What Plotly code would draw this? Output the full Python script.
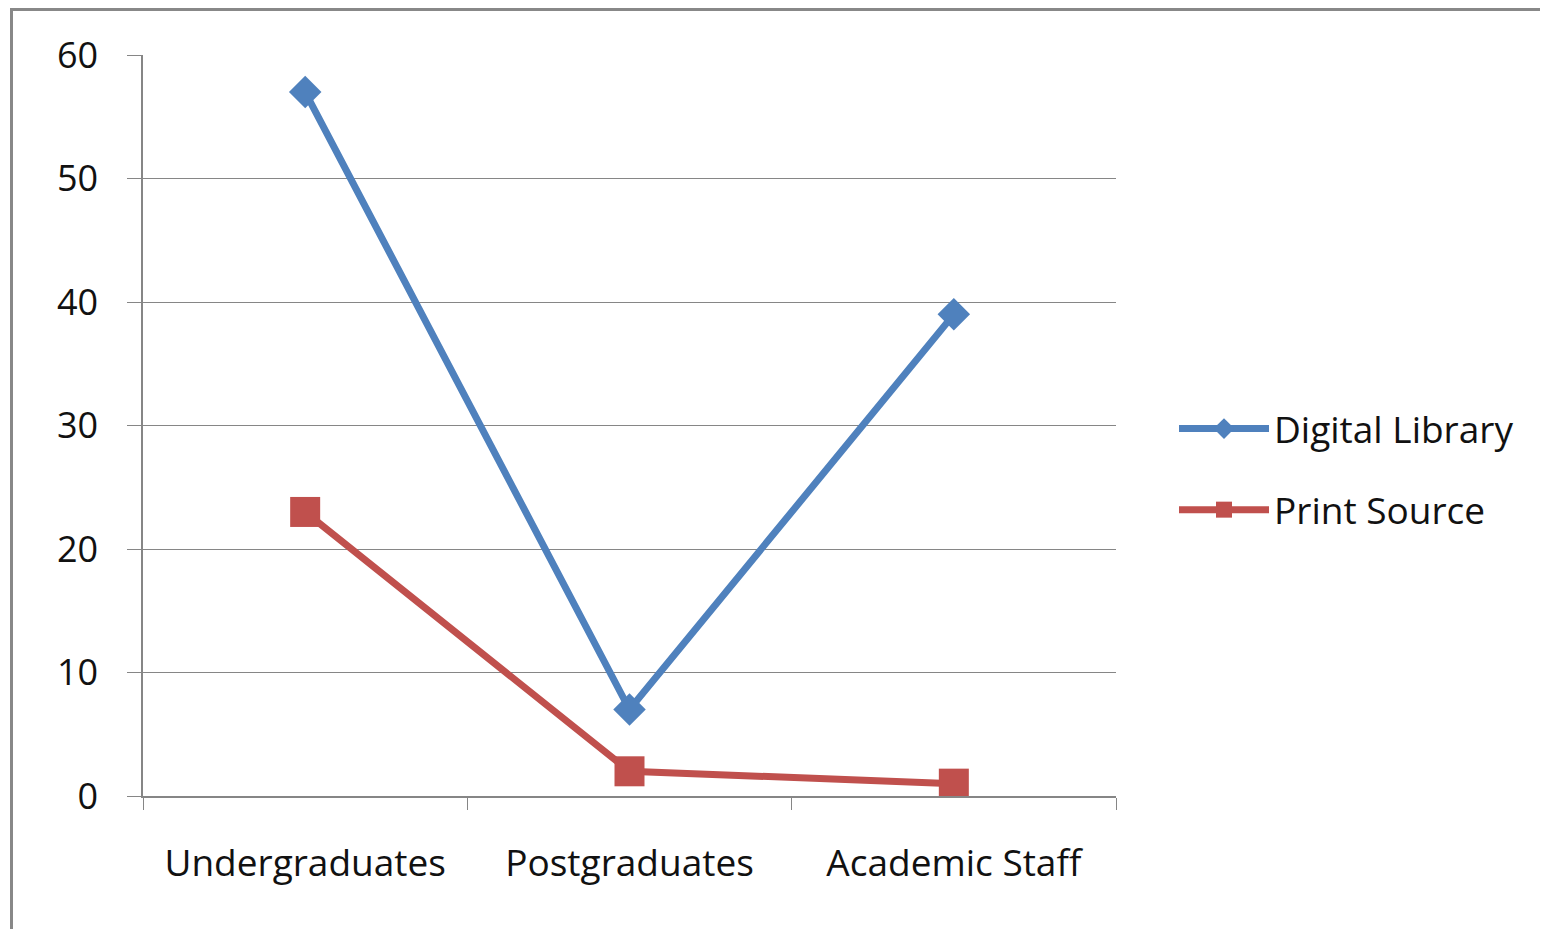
import plotly.graph_objects as go

categories = ["Undergraduates", "Postgraduates", "Academic Staff"]
digital_library = [57, 7, 39]
print_source = [23, 2, 1]
y_ticks = [0, 10, 20, 30, 40, 50, 60]

OFF = 8  # page body margin
W, H = 1548 - OFF, 929 - OFF
L, R, T, B = 143 - OFF, 1116 - OFF, 55 - OFF, 796 - OFF

fig = go.Figure()
fig.add_trace(go.Scatter(
    x=categories, y=digital_library, name="Digital Library",
    mode="lines+markers", legendgroup="a",
    line=dict(color="#4F81BD", width=7),
    marker=dict(symbol="diamond", size=25, color="#4F81BD"),
))
fig.add_trace(go.Scatter(
    x=categories, y=print_source, name="Print Source",
    mode="lines+markers", legendgroup="b",
    line=dict(color="#C0504D", width=7),
    marker=dict(symbol="square", size=30, color="#C0504D"),
))

def px_x(p):
    return (p - OFF - L) / (R - L)

def px_y(p):
    return (B - (p - OFF)) / (B - T)

fig.add_shape(type="rect", xref="paper", yref="paper",
              x0=px_x(11.5), x1=px_x(1700), y0=px_y(1100), y1=px_y(9.5),
              line=dict(color="#888888", width=3), fillcolor="rgba(0,0,0,0)",
              layer="above")

fig.update_layout(
    width=W, height=H,
    margin=dict(l=L, r=W - R, t=T, b=H - B),
    paper_bgcolor="white", plot_bgcolor="white",
    font=dict(family="Open Sans", size=36, color="#111111"),
    showlegend=True,
    legend=dict(x=px_x(1174), y=px_y(398), xanchor="left", yanchor="top",
                font=dict(size=37), tracegroupgap=30, itemwidth=90,
                bgcolor="rgba(0,0,0,0)"),
    xaxis=dict(
        type="category", range=[-0.5, 2.5],
        showline=True, linecolor="#868686", linewidth=1.5,
        ticks="outside", tickson="boundaries", ticklen=12, tickcolor="#868686",
        showgrid=False, zeroline=False, ticklabelstandoff=34,
        tickfont=dict(size=37),
    ),
    yaxis=dict(
        range=[0, 60], tickvals=y_ticks,
        showline=True, linecolor="#868686", linewidth=1.5,
        ticks="outside", ticklen=14, tickcolor="#868686",
        showgrid=True, gridcolor="#868686", gridwidth=1.2,
        zeroline=False, ticklabelstandoff=22,
        tickfont=dict(size=36),
    ),
)

fig.write_html("out.html")
